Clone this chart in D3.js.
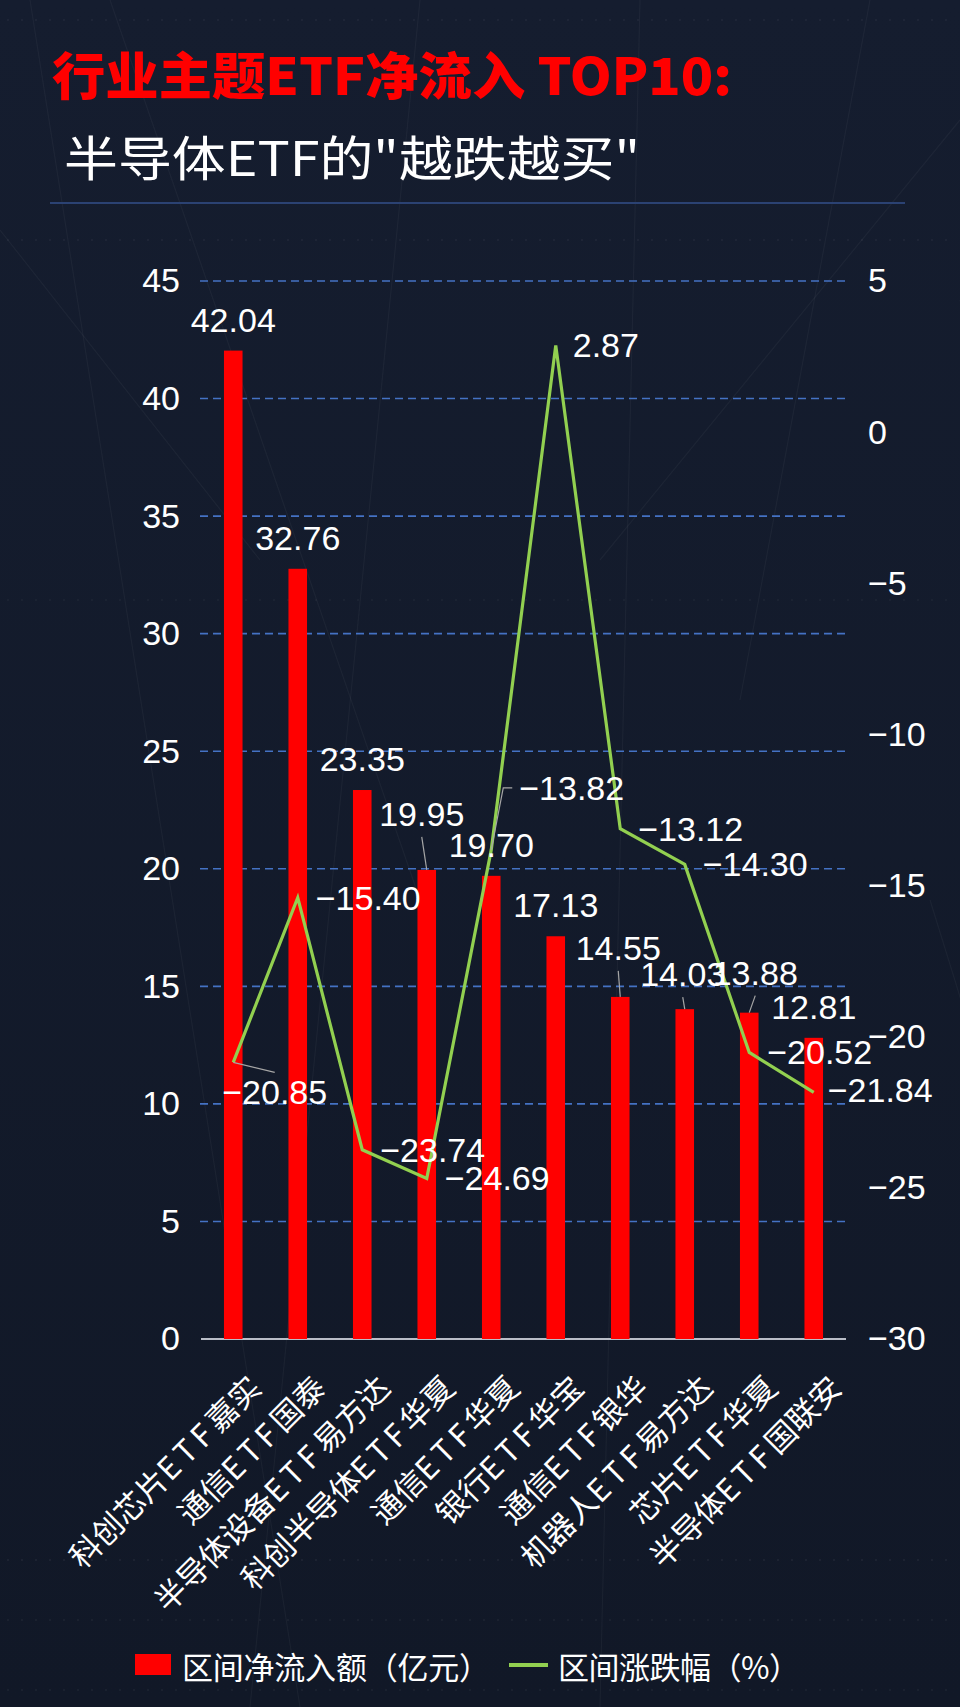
<!DOCTYPE html>
<html><head><meta charset="utf-8">
<script src="https://cdn.jsdelivr.net/npm/d3@7"></script>
<style>html,body{margin:0;padding:0;background:#121a2b;}svg{display:block}</style>
</head><body>
<svg id="chart" width="960" height="1707"></svg>
<script>
// ---------- data ----------
const categories = ["科创芯片ETF嘉实","通信ETF国泰","半导体设备ETF易方达","科创半导体ETF华夏","通信ETF华夏","银行ETF华宝","通信ETF银华","机器人ETF易方达","芯片ETF华夏","半导体ETF国联安"];
const netInflow = [42.04,32.76,23.35,19.95,19.70,17.13,14.55,14.03,13.88,12.81];
const pctChange = [-20.85,-15.40,-23.74,-24.69,-13.82,2.87,-13.12,-14.30,-20.52,-21.84];
const leftTicks = [0,5,10,15,20,25,30,35,40,45];
const rightTicks = [-30,-25,-20,-15,-10,-5,0,5];
const titleText = "行业主题ETF净流入 TOP10:";
const subtitleText = "半导体ETF的\"越跌越买\"";
const legendLabels = ["区间净流入额（亿元）","区间涨跌幅（%）"];

// ---------- label nudges (layout only) ----------
const barLabelShift = [[0,0],[0,0],[0,0],[-5,-25],[0,0],[0,0],[-2,-18],[-2,-4],[6,-9],[0,0]];
const lineLabelShift = [[-29,30],[0,0],[0,0],[0,0],[10,-62],[-1,0],[0,0],[0,0],[0,0],[-4,-2]];
const lineLeader = ["top",null,null,null,"left",null,null,null,null,null];

// ---------- setup ----------
const W = 960, H = 1707;
const NUM = "'Liberation Sans', Arial, Helvetica, sans-serif";
const CJK = "'Noto Sans CJK SC', 'Noto Sans', sans-serif";
const RED = "#FF0000", GREEN = "#92D050", GRID = "#4472C4";
const svg = d3.select("#chart");

const defs = svg.append("defs");
const bg = defs.append("linearGradient").attr("id","bg").attr("x1",0).attr("y1",0).attr("x2",0).attr("y2",1);
bg.append("stop").attr("offset","0%").attr("stop-color","#151d2f");
bg.append("stop").attr("offset","100%").attr("stop-color","#111827");
svg.append("rect").attr("width",W).attr("height",H).attr("fill","url(#bg)");

// faint decorative background (not data)
const deco = svg.append("g").attr("stroke","#ffffff").attr("stroke-opacity",0.04).attr("stroke-width",1.2).attr("fill","none");
[[30,0,300,1707],[110,0,420,900],[420,0,250,1707],[640,0,600,1707],[870,0,740,700],[960,120,600,560],[0,230,260,560],[960,300,1320,1707],[930,900,1180,1707]]
  .forEach(l=>deco.append("line").attr("x1",l[0]).attr("y1",l[1]).attr("x2",l[2]).attr("y2",l[3]));
const dots = svg.append("g").attr("fill","#ffffff");
[[20,0.05],[240,0.05],[600,0.04],[1560,0.06],[1620,0.05],[1690,0.05]].forEach(r=>{
  for(let xx=8; xx<W; xx+=14){ dots.append("circle").attr("cx",xx).attr("cy",r[0]).attr("r",1.1).attr("fill-opacity",r[1]); }
});

// ---------- title ----------
svg.append("text").attr("x",52).attr("y",73).attr("dominant-baseline","central")
  .attr("font-family",CJK).attr("font-weight",900).attr("font-size",51).attr("fill",RED)
  .attr("textLength",680).attr("lengthAdjust","spacingAndGlyphs").text(titleText);
svg.append("text").attr("x",64).attr("y",155).attr("dominant-baseline","central")
  .attr("font-family",CJK).attr("font-weight",400).attr("font-size",48).attr("fill","#ffffff")
  .attr("textLength",576).attr("lengthAdjust","spacingAndGlyphs").text(subtitleText);
svg.append("line").attr("x1",50).attr("x2",905).attr("y1",203).attr("y2",203)
  .attr("stroke","#2b4273").attr("stroke-width",2);

// ---------- scales ----------
const x = d3.scaleBand().domain(categories).range([201,846]);
const bw = x.bandwidth();
const cx = c => x(c) + bw/2;
const yL = d3.scaleLinear().domain([0,45]).range([1339,281]);
const yR = d3.scaleLinear().domain([-30,5]).range([1339,281]);

// gridlines
svg.append("g").selectAll("line").data(leftTicks.filter(t=>t>0)).join("line")
  .attr("x1",200).attr("x2",847).attr("y1",d=>yL(d)).attr("y2",d=>yL(d))
  .attr("stroke",GRID).attr("stroke-width",1.6).attr("stroke-dasharray","8,5");

// axes
const axL = svg.append("g").attr("transform","translate(201,0)")
  .call(d3.axisLeft(yL).tickValues(leftTicks).tickSize(0).tickPadding(21).tickFormat(d3.format("d")));
const axR = svg.append("g").attr("transform","translate(846,0)")
  .call(d3.axisRight(yR).tickValues(rightTicks).tickSize(0).tickPadding(22).tickFormat(d3.format("d")));
[axL,axR].forEach(a=>{
  a.select(".domain").remove();
  a.selectAll("text").attr("fill","#ffffff").attr("font-size",34).attr("font-family",NUM);
});
svg.append("line").attr("x1",201).attr("x2",846).attr("y1",yL(0)).attr("y2",yL(0))
  .attr("stroke","#b9bdc7").attr("stroke-width",2);

// x labels
const xl = svg.append("g");
categories.forEach(c=>{
  const t = xl.append("text")
    .attr("transform",`translate(${cx(c)+20},${yL(0)+41}) rotate(-45)`)
    .attr("text-anchor","end").attr("dominant-baseline","central")
    .attr("font-family",CJK).attr("font-size",31).attr("fill","#ffffff");
  const parts = c.split(/(ETF)/);
  parts.forEach(p=>{ if(!p) return;
    const ts = t.append("tspan").text(p);
    if(p==="ETF") ts.attr("letter-spacing",5);
  });
});

// bars
const barW = bw*0.288;
svg.append("g").selectAll("rect").data(netInflow).join("rect")
  .attr("x",(d,i)=>cx(categories[i])-barW/2).attr("width",barW)
  .attr("y",d=>yL(d)).attr("height",d=>yL(0)-yL(d)).attr("fill",RED);

// line
const line = d3.line().x((d,i)=>cx(categories[i])).y(d=>yR(d));
svg.append("path").datum(pctChange).attr("d",line).attr("fill","none")
  .attr("stroke",GREEN).attr("stroke-width",3.2).attr("stroke-linejoin","miter");

const fmt = d3.format(".2f");
const leaders = svg.append("g").attr("stroke","#a6a6a6").attr("stroke-width",1.2).attr("fill","none");
const labels = svg.append("g").attr("font-family",NUM).attr("font-size",34).attr("fill","#ffffff");

// bar labels
netInflow.forEach((v,i)=>{
  const px = cx(categories[i]), top = yL(v);
  const [dx,dy] = barLabelShift[i];
  const lx = px+dx, ly = top-31+dy;
  labels.append("text").attr("x",lx).attr("y",ly).attr("text-anchor","middle")
    .attr("dominant-baseline","central").text(fmt(v));
  if(Math.abs(dy)>3) leaders.append("line").attr("x1",px).attr("y1",top).attr("x2",lx).attr("y2",ly+23);
});

// line labels
pctChange.forEach((v,i)=>{
  const px = cx(categories[i]), py = yR(v);
  const [dx,dy] = lineLabelShift[i];
  const lx = px+18+dx, ly = py+dy;
  const t = labels.append("text").attr("x",lx).attr("y",ly).attr("text-anchor","start")
    .attr("dominant-baseline","central").text(fmt(v));
  const w = t.node().getComputedTextLength();
  if(lineLeader[i]==="top"){
    leaders.append("polyline").attr("points",`${px},${py} ${lx+w/2},${ly-20}`);
  } else if(lineLeader[i]==="left"){
    leaders.append("polyline").attr("points",`${px},${py} ${lx-16},${ly} ${lx-7},${ly}`);
  }
});

// legend
const lg = svg.append("g").attr("font-family",CJK).attr("font-size",31).attr("fill","#ffffff");
lg.append("rect").attr("x",135).attr("y",1654).attr("width",36).attr("height",21).attr("fill",RED);
lg.append("text").attr("x",182).attr("y",1665).attr("dominant-baseline","central")
  .attr("textLength",308).attr("lengthAdjust","spacing").text(legendLabels[0]);
lg.append("line").attr("x1",509).attr("x2",548).attr("y1",1665).attr("y2",1665).attr("stroke",GREEN).attr("stroke-width",4);
lg.append("text").attr("x",558).attr("y",1665).attr("dominant-baseline","central")
  .attr("textLength",242).attr("lengthAdjust","spacing").text(legendLabels[1]);
</script>
</body></html>
